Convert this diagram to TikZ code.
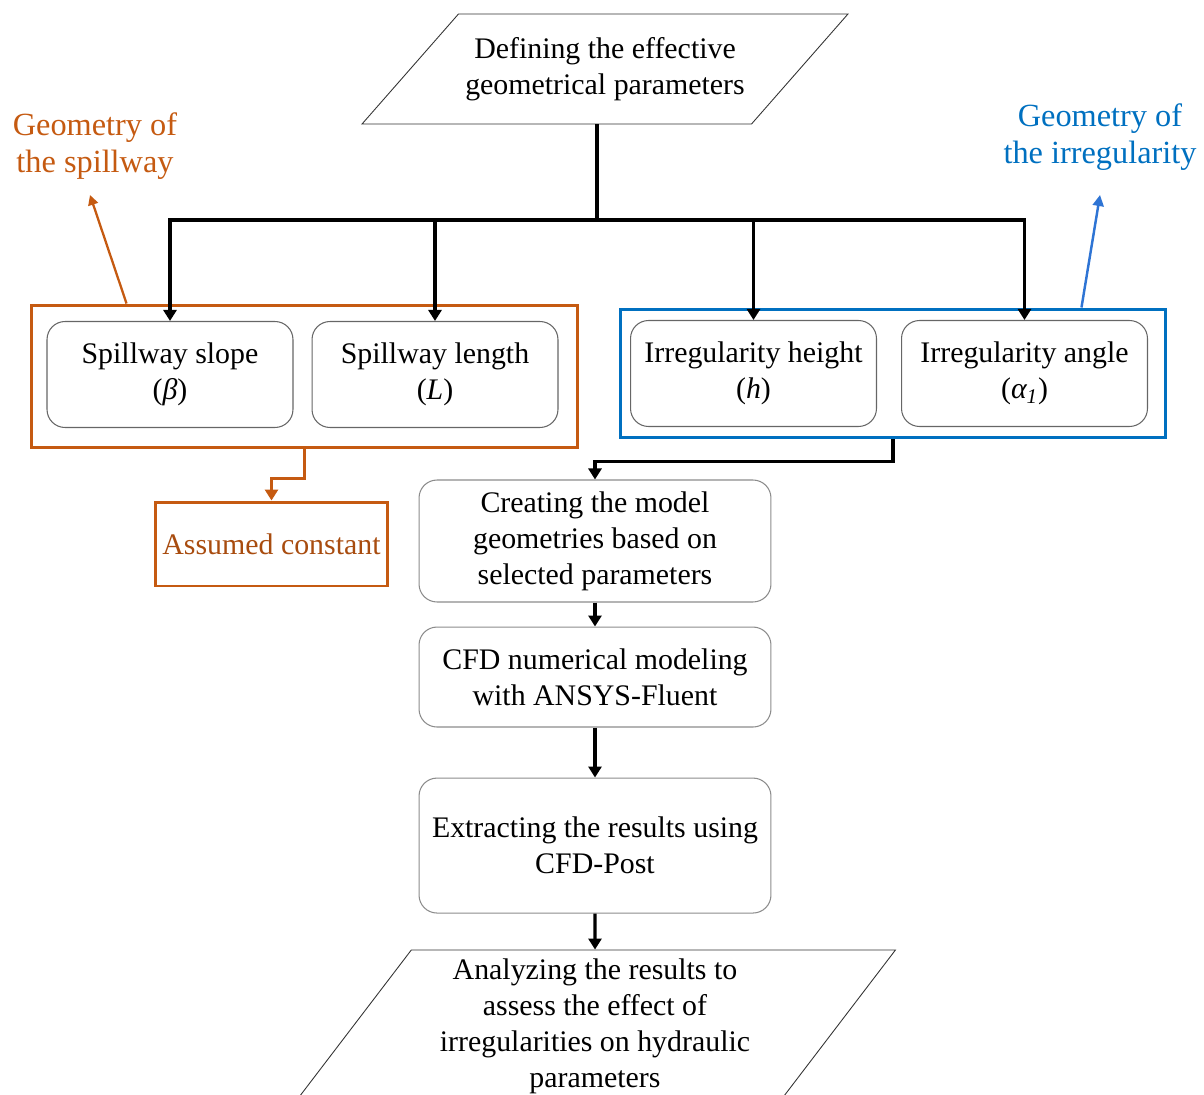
\documentclass[tikz,border=0pt]{standalone}
\usepackage{fontspec}
\setmainfont{Liberation Serif}
\usetikzlibrary{arrows.meta}
\usetikzlibrary{positioning}
\usetikzlibrary{shapes.geometric}
\definecolor{spillorange}{HTML}{C55A11}
\definecolor{irrblue}{HTML}{0070C0}
\definecolor{irrarrow}{HTML}{2E74D4}

\begin{document}
\begin{tikzpicture}[x=0.02cm,y=-0.02cm,>={Triangle[width=0.26cm,length=0.22cm]},
					line width=1.9pt,font=\fontsize{17}{20.5}\selectfont]
					\tikzstyle{para}=[draw=black!80,line width=0.5pt,trapezium,trapezium stretches body,inner sep=1pt,align=center]
					\tikzstyle{param}=[draw=black!60,line width=0.6pt,rounded corners=0.36cm,minimum width=4.92cm,minimum height=2.12cm,align=center]
					\tikzstyle{proc}=[draw=black!45,line width=0.6pt,rounded corners=0.36cm,minimum width=7.04cm,align=center]
					\tikzstyle{group}=[draw,line width=1.7pt]
					\tikzstyle{grouptext}=[font=\fontsize{18.4}{21.5}\selectfont,align=center]
					
					\useasboundingbox (0,0) rectangle (1204,1095);
					
					\node[para,trapezium left angle=34.8,trapezium right angle=145.2,
					minimum width=9.72cm,minimum height=2.2cm] (define) at (605,69) {Defining the effective\\geometrical parameters};
					
					\node[group,draw=spillorange,minimum width=10.94cm,minimum height=2.86cm] (spill) at (304.5,376.5) {};
					\node[group,draw=irrblue,minimum width=10.92cm,minimum height=2.58cm]     (irr)   at (893,373.5)   {};
					
					\node[param]       (slope)  at (170,374.5)  {Spillway slope\\(\textit{β})};
					\node[param]       (length) at (435,374.5)  {Spillway length\\(\textit{L})};
					\node[param]       (height) at (753.5,373.5) {Irregularity height\\(\textit{h})};
					\node[param]       (angle)  at (1024.5,373.5) {Irregularity angle\\(\textit{α\textsubscript{1}})};
					
					\node[grouptext,text=spillorange] (spilltext) at (95,146)  {Geometry of\\the spillway};
					\node[grouptext,text=irrblue]     (irrtext)   at (1100,137) {Geometry of\\the irregularity};
					
					\node[group,draw=spillorange,text=spillorange!85!black,minimum width=4.66cm,minimum height=1.68cm] (assumed) at (271.5,544) {Assumed constant};
					
					\node[proc,minimum height=2.44cm]  (create)  at (595,541) {Creating the model\\geometries based on\\selected parameters};
					\node[proc,minimum height=2.0cm]   (cfd)     [below=0.48cm of create]  {CFD numerical modeling\\with ANSYS-Fluent};
					\node[proc,minimum height=2.7cm]   (extract) [below=1.0cm of cfd]      {Extracting the results using\\CFD-Post};
					\node[para,trapezium left angle=49.9,trapezium right angle=130.1,
					minimum width=12.02cm,minimum height=3.06cm] (analyze) [below=0.72cm of extract]
					{Analyzing the results to\\assess the effect of\\irregularities on hydraulic\\parameters};
					
					% split of the parameters
					\coordinate (split) at (597,220);
					\draw (split |- define.south) -- (split);
					\draw[->] (split) -| (slope.north);
					\draw[->] (split) -| (length.north);
					\draw[->] (split) -| (height.north);
					\draw[->] (split) -| (angle.north);
					
					% group pointers
					\coordinate (spilltip) at (90,195);
					\coordinate (irrtip)   at (1100,195);
					\draw[spillorange,line width=1.3pt,-{Triangle[width=0.2cm,length=0.2cm]}] ([xshift=1.94cm]spill.north west) -- (spilltip);
					\draw[irrarrow,line width=1.4pt,-{Triangle[width=0.22cm,length=0.22cm]}] ([xshift=9.26cm]irr.north west) -- (irrtip);
					
					\draw[spillorange,line width=1.7pt,->] (spill.south) -- ++(0,29) -| (assumed.north);
					\draw[->] (irr.south) -- ++(0,22) -| (create.north);
					
					\path[->] (create) edge (cfd)
					(cfd) edge (extract)
					(extract) edge (analyze);
\end{tikzpicture}
\end{document}
